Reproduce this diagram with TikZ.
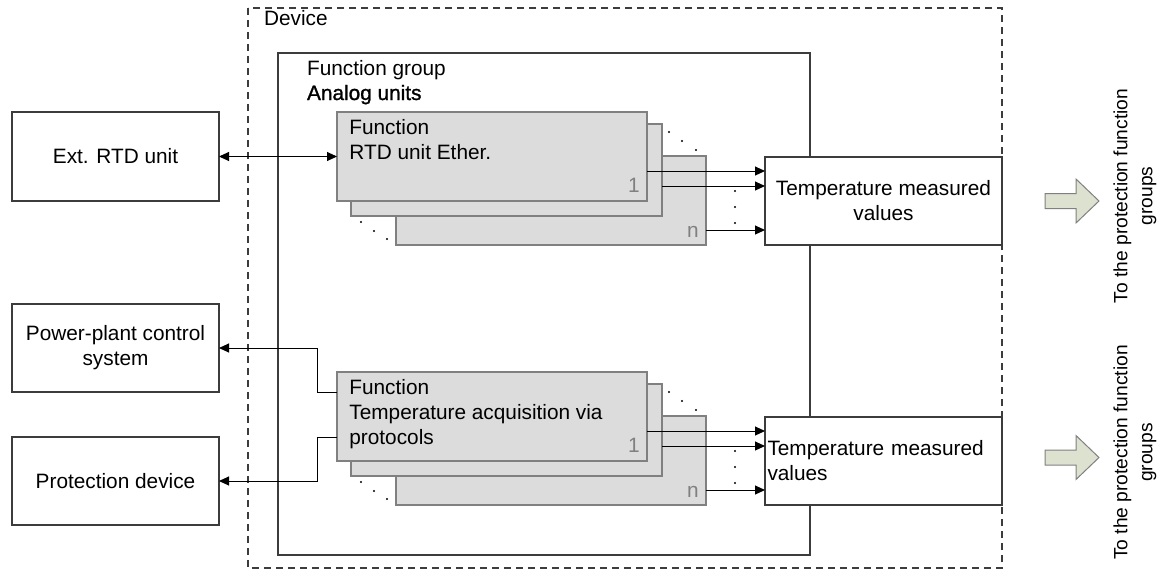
\documentclass[tikz,border=0pt]{standalone}
\usepackage{fontspec}
\setmainfont{Liberation Sans}
\newfontface\heavyface[FakeBold=1.2]{Liberation Sans}
\usetikzlibrary{calc,arrows.meta}

\definecolor{fillgray}{HTML}{DCDCDC}
\definecolor{edgegray}{HTML}{808080}
\definecolor{linegray}{HTML}{3C3C3C}
\definecolor{arrowfill}{HTML}{DDE1CF}

\begin{document}
\begin{tikzpicture}[
        x=0.5pt, y=-0.5pt,
        font=\fontsize{10.4}{12.5}\selectfont,
        >={Triangle[length=5pt,width=4.5pt]},
        box/.style={draw=linegray, line width=0.6pt, fill=white, inner sep=0pt,
          outer sep=0pt, align=center},
        fbox/.style={draw=edgegray, line width=0.6pt, fill=fillgray, inner sep=0pt,
          outer sep=0pt, minimum width=155pt, minimum height=44.5pt},
        conn/.style={->, line width=0.5pt},
        frame/.style={draw=linegray, line width=0.6pt}
      ]

      \useasboundingbox (0,0) rectangle (1175,575);

      % Device and function group frames
      \draw[frame, dash pattern=on 3.5pt off 2.5pt] (248,8) rectangle (1002,568);
      \node[anchor=base west] (devlbl) at (257,25) {Device};
      \draw[frame, line width=0.7pt] (278,53) rectangle (810,555);
      \node[anchor=base west] (fglbl) at (300,75) {Function group};
      \node[anchor=base west, font=\fontsize{10.4}{12.5}\heavyface] (aulbl)
      at (300,100) {Analog units};

      % Units outside the device
      \node[box, minimum width=103.5pt, minimum height=44.5pt] (ext) at (115.5,156.5)
      {Ext. RTD unit};
      \node[box, minimum width=103.5pt, minimum height=44pt] (pcs) at (115.5,348)
      {Power-plant control\\system};
      \node[box, minimum width=103.5pt, minimum height=44pt] (prot) at (115.5,481)
      {Protection device};

      % Measured value boxes
      \node[box, minimum width=118.5pt, minimum height=44pt] (ta) at (883.5,201)
      {Temperature measured\\values};
      \node[box, minimum width=118.5pt, minimum height=44pt, text width=116pt,
      align=left] (tb) at (883.5,461) {Temperature measured\\values};

      % Function stacks [a] and [b]
      \foreach \k/\dy/\txt in {a/0/{RTD unit Ether.},
        b/260/{Temperature acquisition via\\protocols}} {
        \node[fbox] (f\k3) at (551,200.5+\dy) {};
        \node[fbox, minimum width=155.5pt, minimum height=46pt] (f\k2)
        at (506.5,170+\dy) {};
        \node[fbox] (f\k1) at (492,156.5+\dy) {};
        \node[anchor=north west, inner sep=0pt, align=left] (f\k t)
        at ($(f\k1.north west)+(12,7)$) {Function\\\txt};
        \node[anchor=base east, inner sep=0pt, text=edgegray] (f\k one)
        at ($(f\k1.south east)+(-7,-9)$) {1};
        \node[anchor=base east, inner sep=0pt, text=edgegray] (f\k n)
        at ($(f\k3.south east)+(-7,-8)$) {n};

        \foreach \x/\y in {669/132, 682/141, 696/150, 361/222, 374/231, 387/239,
          735/191, 735/207, 735/223}
        \fill (\x,\y+\dy) circle (1.2);

        \coordinate (o\k1) at ($(f\k1.south east)+(0,-30)$);
        \coordinate (o\k2) at ($(f\k2.south east)+(0,-30)$);
        \coordinate (o\k3) at ($(f\k3.south east)+(0,-15)$);
        \foreach \j in {1,2,3}
        \draw[conn] (o\k\j) -- (o\k\j -| t\k.west);
      }

      % Links to the outside units
      \draw[conn, <->] (ext.east) -- (fa1.west);
      \coordinate (ib1) at ($(fb1.north west)+(0,20)$);
      \coordinate (ib2) at ($(fb1.north west)+(0,65)$);
      \draw[conn] (ib1) -- ++(-20,0) |- (pcs.east);
      \draw[conn] (ib2) -- ++(-20,0) |- (prot.east);

      % To the protection function groups
      \foreach \cy/\nm in {201/toa, 457.5/tob} {
        \draw[draw=edgegray, fill=arrowfill, line width=0.5pt]
        (1045,\cy-7.5) -- (1076,\cy-7.5) -- (1076,\cy-22) -- (1099,\cy)
        -- (1076,\cy+22) -- (1076,\cy+7.5) -- (1045,\cy+7.5) -- cycle;
        \node[rotate=90, align=center, font=\fontsize{9.6}{12.5}\selectfont] (\nm)
        at (1135,\cy-5) {To the protection function\\groups};
      }

    \end{tikzpicture}
\end{document}
